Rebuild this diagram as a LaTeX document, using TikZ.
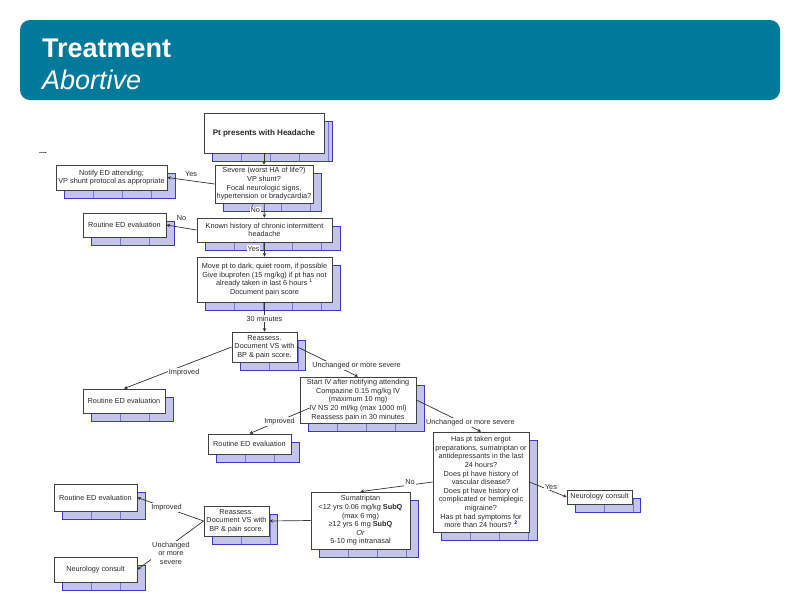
\documentclass[tikz,border=0pt]{standalone}
\usepackage{fontspec}
\setmainfont{Liberation Sans}
\usetikzlibrary{shadows, arrows.meta}
\definecolor{headerteal}{HTML}{00799A}
\definecolor{shadowfill}{HTML}{C4C4EA}
\definecolor{shadowline}{HTML}{3A3AC8}
\definecolor{inktext}{HTML}{2A2A2A}

\begin{document}
\begin{tikzpicture}[
    x=1pt, y=-1pt,
    flowbox/.style={rectangle, draw=black!75, line width=0.8pt, fill=white, inner sep=0pt, align=center,
        font=\fontsize{7.3}{8.6}\selectfont, text=inktext,
        general shadow={shadow xshift=8pt, shadow yshift=-8pt, fill=shadowfill, draw=shadowline, line width=0.7pt,
            path picture={\foreach \d in {29,58,...,145}
                \draw[shadowline!70, line width=0.4pt] ([xshift=\d pt]path picture bounding box.south west) -- ([xshift=\d pt]path picture bounding box.north west);}}},
    lbl/.style={fill=white, inner sep=1pt, font=\fontsize{7.3}{8.6}\selectfont, text=inktext, align=center},
    arrow/.style={-{Stealth[length=3.5pt,width=3.5pt]}, line width=0.7pt, draw=black!80}
]
\useasboundingbox (0,0) rectangle (800,600);

% header
\node[rectangle, rounded corners=10pt, fill=headerteal, minimum width=760pt, minimum height=80pt, inner sep=0pt] (header) at (400,60) {};
\node[text=white, font=\fontsize{27}{30}\selectfont\bfseries, anchor=west, inner sep=0pt] (title) at (42,48) {Treatment};
\node[text=white, font=\fontsize{27}{30}\selectfont\itshape, anchor=west, inner sep=0pt] (subtitle) at (42,80) {Abortive};
\node[font=\fontsize{7}{8}\selectfont\bfseries, inner sep=0pt] (dots) at (43,153) {....};

% boxes
\node[flowbox, minimum width=120pt, minimum height=40pt, font=\fontsize{8.05}{10}\selectfont\bfseries] (start) at (264,133) {Pt presents with Headache};
\node[flowbox, minimum width=98pt, minimum height=38pt] (severe) at (264,184) {Severe (worst HA of life?)\\VP shunt?\\Focal neurologic signs,\\hypertension or bradycardia?};
\node[flowbox, minimum width=111pt, minimum height=25pt] (notify) at (111.5,177.5) {Notify ED attending;\\VP shunt protocol as appropriate};
\node[flowbox, minimum width=135pt, minimum height=24pt] (known) at (264.5,230) {Known history of chronic intermittent\\headache};
\node[flowbox, minimum width=83pt, minimum height=24pt] (routinea) at (124.5,225) {Routine ED evaluation};
\node[flowbox, minimum width=135pt, minimum height=45pt] (move) at (264.5,279.5) {Move pt to dark, quiet room, if possible\\Give ibuprofen (15 mg/kg) if pt has not\\already taken in last 6 hours \textcolor{blue!70!black}{\textsuperscript{1}}\\Document pain score};
\node[flowbox, minimum width=65pt, minimum height=30pt] (reassessa) at (264.5,347) {Reassess.\\Document VS with\\BP \& pain score.};
\node[flowbox, minimum width=82pt, minimum height=24pt] (routineb) at (124,401) {Routine ED evaluation};
\node[flowbox, minimum width=83pt, minimum height=20pt] (routinec) at (249.5,444) {Routine ED evaluation};
\node[flowbox, minimum width=116pt, minimum height=46pt] (startiv) at (358,400) {Start IV after notifying attending\\Compazine 0.15 mg/kg IV\\(maximum 10 mg)\\IV NS 20 ml/kg (max 1000 ml)\\Reassess pain in 30 minutes};
\node[flowbox, minimum width=96pt, minimum height=100pt] (ergot) at (481,482) {Has pt taken ergot\\preparations, sumatriptan or\\antidepressants in the last\\24 hours?\\Does pt have history of\\vascular disease?\\Does pt have history of\\complicated or hemiplegic\\migraine?\\Has pt had symptoms for\\more than 24 hours? \textcolor{blue!70!black}{\textsuperscript{\textbf{2}}}};
\node[flowbox, minimum width=65pt, minimum height=14pt] (neuroa) at (599.5,497) {Neurology consult};
\node[flowbox, minimum width=99pt, minimum height=57pt] (suma) at (360.5,520.5) {Sumatriptan\\<12 yrs 0.06 mg/kg \textbf{SubQ}\\(max 6 mg)\\≥12 yrs 6 mg \textbf{SubQ}\\\textit{Or}\\5-10 mg intranasal};
\node[flowbox, minimum width=65pt, minimum height=30pt] (reassessb) at (236.5,521) {Reassess.\\Document VS with\\BP \& pain score.};
\node[flowbox, minimum width=83pt, minimum height=27pt] (routined) at (95.5,497.5) {Routine ED evaluation};
\node[flowbox, minimum width=83pt, minimum height=25pt] (neurob) at (95.5,569.5) {Neurology consult};

% connectors
\draw[arrow] (start) -- (severe);
\draw[arrow] (severe.west) -- node[lbl, fill=none, pos=0.5, yshift=7pt] {Yes} (notify.east);
\draw[arrow] (severe) -- node[lbl, xshift=-9pt, pos=0.5] {No} (known);
\draw[arrow] (known.west) -- node[lbl, fill=none, pos=0.5, yshift=9pt] {No} (routinea.east);
\draw[arrow] (known) -- node[lbl, xshift=-11pt, pos=0.45] {Yes} (move);
\draw[arrow] (move) -- node[lbl, pos=0.55] {30 minutes} (reassessa);
\draw[arrow] (reassessa.west) -- node[lbl, pos=0.46, xshift=2pt, yshift=-6pt] {Improved} (routineb.north);
\draw[arrow] (reassessa.east) -- node[lbl, pos=0.63, xshift=21pt] {Unchanged or more severe} (startiv.north);
\draw[arrow] ([xshift=10pt,yshift=-8pt]startiv.west) -- node[lbl, pos=0.5, yshift=-1pt] {Improved} (routinec.north);
\draw[arrow] (startiv.east) -- node[lbl, pos=0.65, xshift=12pt, yshift=-2pt] {Unchanged or more severe} (ergot.north);
\draw[arrow] (ergot.west) -- node[lbl, pos=0.34, xshift=2pt, yshift=3pt] {No} (suma.north);
\draw[arrow] (ergot.east) -- node[lbl, pos=0.58, yshift=4pt] {Yes} (neuroa.west);
\draw[arrow] (suma.west) -- (reassessb.east);
\draw[arrow] (reassessb.west) -- node[lbl, pos=0.56] {Improved} (routined.east);
\draw[arrow] (reassessb.west) -- node[lbl, pos=0.66, xshift=11pt] {Unchanged\\or more\\severe} (neurob.east);

\end{tikzpicture}
\end{document}
